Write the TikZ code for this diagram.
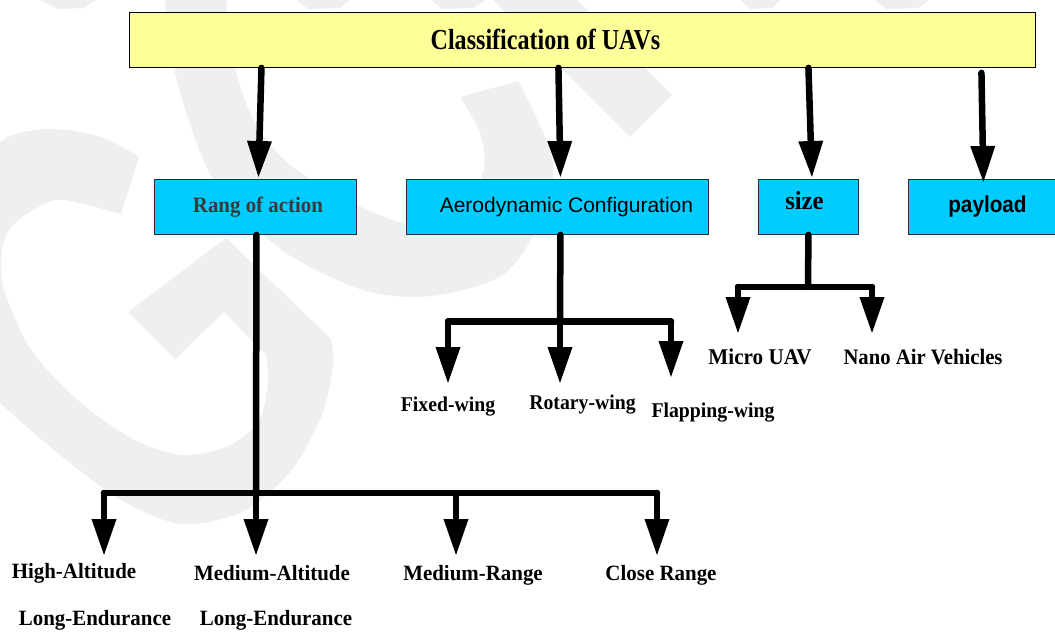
\documentclass[tikz,border=0pt]{standalone}
\usepackage{graphicx}
\usepackage{fontspec}
\setmainfont{Liberation Serif}
\setsansfont{Liberation Sans}
\usetikzlibrary{arrows.meta}
\definecolor{wm}{RGB}{239,239,239}
\definecolor{yel}{RGB}{255,255,153}
\definecolor{cyanbox}{RGB}{0,204,255}
\definecolor{bord}{RGB}{45,45,45}
\definecolor{rangc}{RGB}{58,58,58}
\newcommand\sqz[3]{\scalebox{#1}[1]{\fontsize{#2}{#2}\selectfont #3}}
\tikzset{
  topbox/.style={draw=black, line width=0.9pt, fill=yel, minimum width=906pt, minimum height=55pt, inner sep=0pt, anchor=north west},
  catbox/.style={draw=bord, line width=0.9pt, fill=cyanbox, minimum height=55pt, inner sep=0pt, anchor=north west},
  lbl/.style={font=\bfseries, inner sep=0pt},
  ln/.style={line width=6.5pt, line cap=round},
  arr/.style={line width=6.5pt, line cap=round, -{Triangle[length=37pt,width=23pt]}}
}
\begin{document}
\begin{tikzpicture}[x=1pt,y=-1pt]
\useasboundingbox (0,0) rectangle (1055,632);
\clip (0,0) rectangle (1055,632);
\fill[white] (0,0) rectangle (1055,632);
% watermark
\fill[wm] plot[smooth] coordinates {(165,0)(177,81)(214,181)(282,250)(363,290)(431,296)(504,274)(544,214)(552,157)(518,81)}
  -- plot[smooth] coordinates {(460,97)(480,133)(484,169)(463,210)(419,226)(359,206)(290,165)(254,121)(234,64)(226,0)} -- cycle;
\fill[wm] (493,0) -- (577,0) -- (672,95) -- (630,137) -- cycle;
\fill[wm] plot[smooth] coordinates {(139,157)(101,137)(52,129)(10,136)(-20,160)} -- (-20,400)
  -- plot[smooth] coordinates {(0,403)(60,455)(121,500)(181,524)(242,512)(290,472)(322,415)(333,363)(331,339)}
  -- (226,238) -- (128,312) -- (175,359) -- (224,312)
  -- plot[smooth] coordinates {(266,355)(268,383)(258,423)(226,447)(181,455)(133,439)(81,403)(32,351)(4,290)(2,250)(12,226)(40,206)(64,200)(121,214)} -- cycle;
\fill[wm] (40,0) -- (96,0) -- (84,8) -- (58,9) -- cycle;
\fill[wm] (296,0) -- (350,0) -- (340,8) -- (308,9) -- cycle;
\fill[wm] (431,0) -- (485,0) -- (474,8) -- (442,9) -- cycle;
\fill[wm] (740,0) -- (780,0) -- (772,8) -- (750,9) -- cycle;
\fill[wm] (875,0) -- (929,0) -- (918,8) -- (886,9) -- cycle;
% boxes
\node[topbox] (top) at (129,12) {\bfseries\sqz{0.83}{29}{Classification of UAVs}\hspace*{74pt}};
\node[catbox, minimum width=202pt] (rang) at (154,179) {\color{rangc}\bfseries\hspace*{5pt}\sqz{0.95}{22}{Rang of action}};
\node[catbox, minimum width=302pt] (aero) at (406,179) {\sffamily\hspace*{18pt}\sqz{1}{21}{Aerodynamic Configuration}};
\node[catbox, minimum width=100pt] (size) at (758,179) {\raisebox{13pt}{\bfseries\sqz{0.95}{26}{size}\hspace*{8pt}}};
\node[catbox, minimum width=160pt] (payload) at (908,179) {\sffamily\bfseries\sqz{0.9}{23}{payload}\hspace*{2pt}};
% top arrows
\draw[arr] ([xshift=-321pt]top.south) -- ([xshift=3pt,yshift=1pt]rang.north);
\draw[arr] ([xshift=-24pt]top.south) -- ([xshift=3pt,yshift=1pt]aero.north);
\draw[arr] ([xshift=226pt]top.south) -- ([xshift=3.5pt,yshift=1pt]size.north);
\draw[arr] ([xshift=399pt,yshift=-5pt]top.south) -- ([xshift=-5pt,yshift=-4pt]payload.north);
% range of action tree
\coordinate (rj) at (256,493);
\coordinate (rl) at (104,493);
\coordinate (rm) at (456,493);
\coordinate (rr) at (657,493);
\coordinate (re1) at (104,556);
\coordinate (re2) at (256,556);
\coordinate (re3) at (456,556);
\coordinate (re4) at (657,556);
\draw[ln] ([xshift=1pt]rang.south) -- (rj);
\draw[ln] (rl) -- (rr);
\draw[arr] (rl) -- (re1);
\draw[arr] (rj) -- (re2);
\draw[arr] (rm) -- (re3);
\draw[arr] (rr) -- (re4);
% aerodynamic tree
\coordinate (aj) at (560,321.5);
\coordinate (al) at (448,321.5);
\coordinate (ar) at (671,321.5);
\coordinate (ae1) at (448,384);
\coordinate (ae2) at (560,384);
\coordinate (ae3) at (671,378);
\draw[ln] ([xshift=3pt]aero.south) -- (aj);
\draw[ln] (al) -- (ar);
\draw[arr] (al) -- (ae1);
\draw[arr] (aj) -- (ae2);
\draw[arr] (ar) -- (ae3);
% size tree
\coordinate (sj) at (808,287);
\coordinate (sl) at (738,287);
\coordinate (sr) at (872,287);
\coordinate (se1) at (738,334);
\coordinate (se2) at (872,334);
\draw[ln] (size.south) -- (sj);
\draw[ln] (sl) -- (sr);
\draw[arr] (sl) -- (se1);
\draw[arr] (sr) -- (se2);
% labels
\node[lbl] (fw) at (448,407) {\sqz{0.94}{21}{Fixed-wing}};
\node[lbl] (rw) at (582.5,405) {\sqz{0.94}{21}{Rotary-wing}};
\node[lbl] (flw) at (713,413) {\sqz{0.94}{21}{Flapping-wing}};
\node[lbl] (micro) at (760,357) {\sqz{0.94}{22.5}{Micro UAV}};
\node[lbl] (nano) at (923,357) {\sqz{0.94}{22}{Nano Air Vehicles}};
\node[lbl] (hale1) at (74,573) {\sqz{0.96}{21.8}{High-Altitude}};
\node[lbl] (hale2) at (95,620) {\sqz{0.96}{21.8}{Long-Endurance}};
\node[lbl] (male1) at (272,573) {\sqz{0.96}{21.8}{Medium-Altitude}};
\node[lbl] (male2) at (276,620) {\sqz{0.96}{21.8}{Long-Endurance}};
\node[lbl] (mr) at (473,575) {\sqz{0.96}{21.8}{Medium-Range}};
\node[lbl] (cr) at (661,575) {\sqz{0.96}{21.8}{Close Range}};
\end{tikzpicture}
\end{document}
